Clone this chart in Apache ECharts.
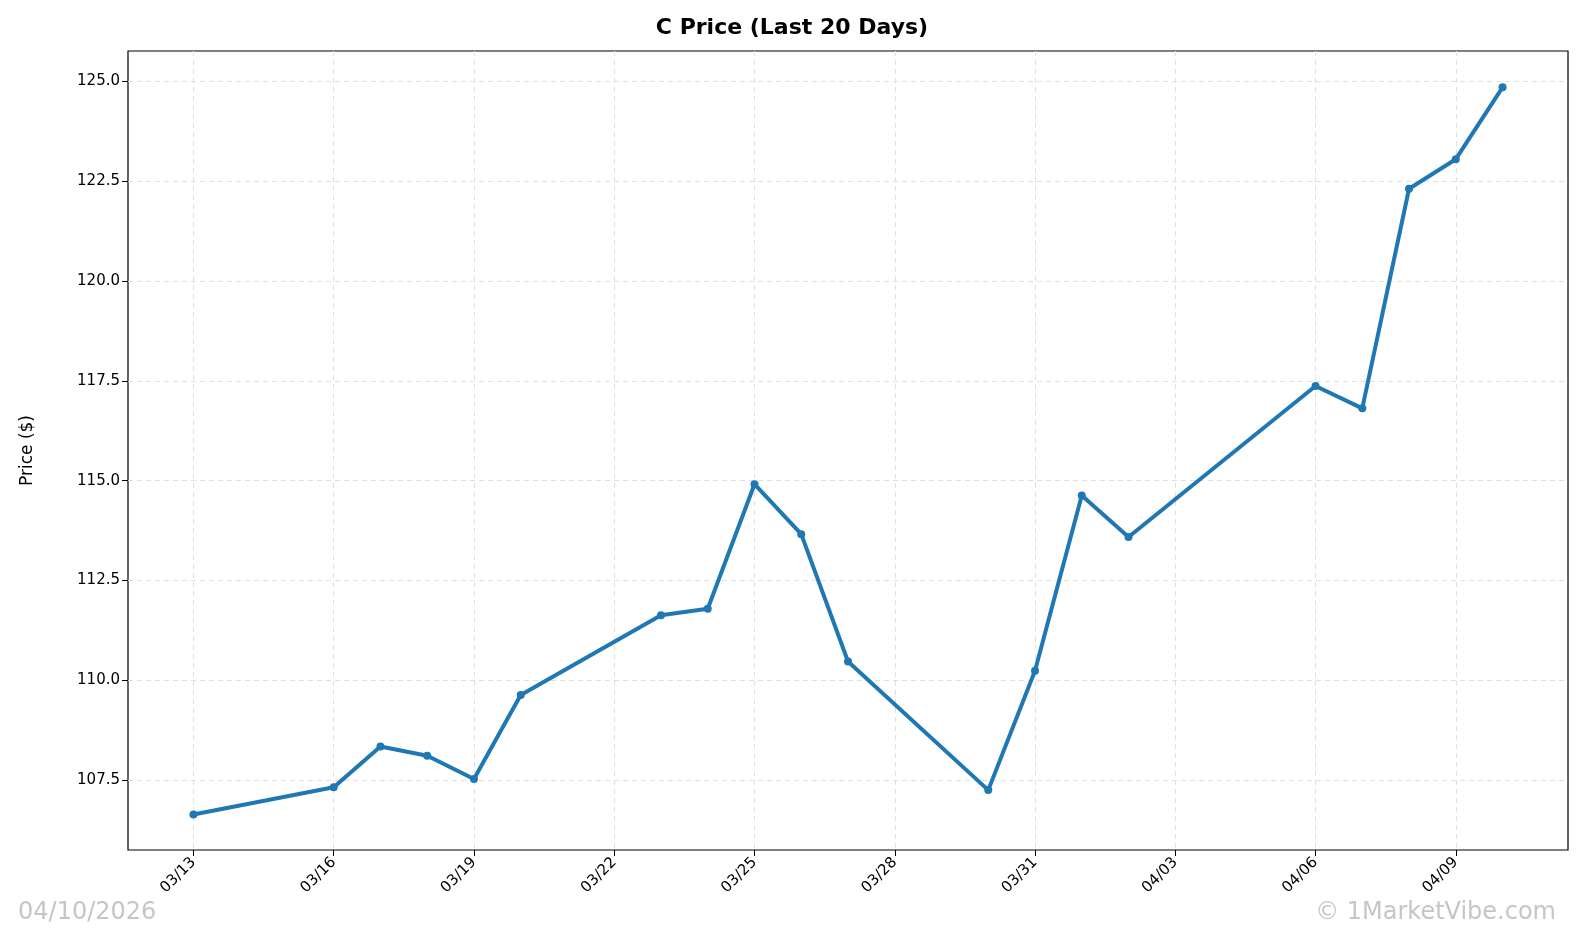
<!DOCTYPE html>
<html><head><meta charset="utf-8">
<script src="https://cdn.jsdelivr.net/npm/echarts@6/dist/echarts.min.js"></script>
<style>html,body{margin:0;padding:0;background:#fff}#c{width:1584px;height:941px}</style>
</head><body><div id="c"></div>
<script>
const dates = ["03/13","03/16","03/17","03/18","03/19","03/20","03/23","03/24","03/25","03/26","03/27","03/30","03/31","04/01","04/02","04/06","04/07","04/08","04/09","04/10"];
const dayOffsets = [0,3,4,5,6,7,10,11,12,13,14,17,18,19,20,24,25,26,27,28];
const prices = [106.64,107.32,108.34,108.11,107.53,109.63,111.63,111.79,114.91,113.66,110.47,107.25,110.24,114.63,113.59,117.37,116.81,122.31,123.05,124.85];
const xTickDays = [0,3,6,9,12,15,18,21,24,27];
const yTicks = [107.5,110,112.5,115,117.5,120,122.5,125];
const base = Date.UTC(2026,2,13);
function fmt(d){const t=new Date(base+d*86400000);return String(t.getUTCMonth()+1).padStart(2,'0')+'/'+String(t.getUTCDate()).padStart(2,'0');}
const chart = echarts.init(document.getElementById('c'));
const font = 'DejaVu Sans';
chart.setOption({
  animation:false,
  textStyle:{fontFamily:font},
  title:{text:'C Price (Last 20 Days)',left:'center',top:12,textStyle:{fontFamily:font,fontSize:22,fontWeight:'bold',color:'#000'}},
  grid:{left:128,right:16,top:51,bottom:91,containLabel:false,show:true,borderColor:'#000',borderWidth:1.2},
  xAxis:{type:'value',min:-1.4,max:29.4,
    axisLine:{show:false,onZero:false},
    axisTick:{show:true,customValues:xTickDays,length:6,lineStyle:{color:'#000'}},
    axisLabel:{customValues:xTickDays,formatter:v=>fmt(v),rotate:45,color:'#000',fontSize:15,margin:10,fontFamily:font},
    splitLine:{show:true,lineStyle:{color:'#e0e0e0',type:[5,4]}}},
  yAxis:{type:'value',min:105.75,max:125.76,name:'Price ($)',nameLocation:'middle',nameGap:92,nameTextStyle:{fontSize:17,color:'#000',fontFamily:font},
    axisLine:{show:false,onZero:false},
    axisTick:{show:true,customValues:yTicks,length:6,lineStyle:{color:'#000'}},
    axisLabel:{customValues:yTicks,formatter:v=>v.toFixed(1),color:'#000',fontSize:15,fontFamily:font},
    splitLine:{show:true,lineStyle:{color:'#e0e0e0',type:[5,4]}}},
  series:[{type:'line',data:dayOffsets.map((d,i)=>[d,prices[i]]),
    lineStyle:{color:'#1f77b4',width:4},itemStyle:{color:'#1f77b4'},symbol:'circle',symbolSize:8,showSymbol:true}],
  graphic:[
    {type:'text',left:18,bottom:16,style:{text:'04/10/2026',fontSize:24,fill:'rgba(150,150,150,0.55)',fontFamily:font}},
    {type:'text',right:28,bottom:16,style:{text:'© 1MarketVibe.com',fontSize:24,fill:'rgba(150,150,150,0.55)',fontFamily:font}}
  ]
});
</script></body></html>
